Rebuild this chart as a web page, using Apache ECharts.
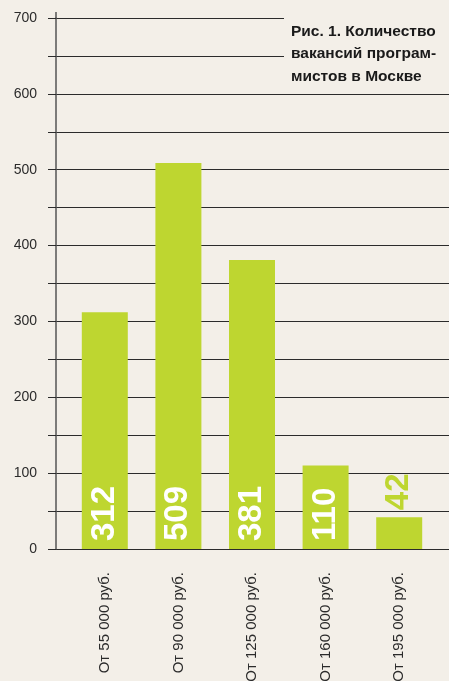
<!DOCTYPE html>
<html>
<head>
<meta charset="utf-8">
<script src="https://cdn.jsdelivr.net/npm/echarts@6/dist/echarts.min.js"></script>
<style>
  html, body { margin: 0; padding: 0; background: #f3efe8; }
  #chart { width: 449px; height: 681px; }
</style>
</head>
<body>
<div id="chart"></div>
<script>
// данные
const categories = ["От 55 000 руб.", "От 90 000 руб.", "От 125 000 руб.", "От 160 000 руб.", "От 195 000 руб."];
const vacancies = [312, 509, 381, 110, 42];
const titleLines = ["Рис. 1. Количество", "вакансий програм-", "мистов в Москве"];

const green = "#bed630";
const ink = "#2b2b2b";

let myChart = echarts.init(document.getElementById("chart"));

// короткий столбец — подпись над ним
const barData = vacancies.map((v) => {
  if (v < 80) {
    return {
      value: v,
      label: { position: "top", distance: 7, color: green },
    };
  }
  return v;
});

myChart.setOption({
  backgroundColor: "#f3efe8",
  animation: false,
  grid: [
    { left: 56, right: 0, top: 18, bottom: 132, outerBoundsMode: "none" }, // сетка и ось
    { left: 68, right: 13, top: 18, bottom: 132, outerBoundsMode: "none" }, // столбцы
  ],
  xAxis: [
    { gridIndex: 0, type: "value", show: false, min: 0, max: 1 },
    {
      gridIndex: 1,
      type: "category",
      data: categories,
      axisLine: { show: false },
      axisTick: { show: false },
      axisLabel: {
        interval: 0,
        rotate: 90,
        margin: 23,
        color: ink,
        fontSize: 15,
        fontFamily: "Liberation Sans",
      },
    },
  ],
  yAxis: [
    {
      gridIndex: 0,
      type: "value",
      min: 0,
      max: 700,
      interval: 50,
      axisLine: { show: true, lineStyle: { color: "#555", width: 1.5 } },
      axisTick: { show: true, length: 8, lineStyle: { color: ink, width: 1 } },
      axisLabel: {
        margin: 19,
        color: ink,
        fontSize: 14,
        fontFamily: "Liberation Sans",
        formatter: (v) => (v % 100 === 0 ? String(v) : ""),
      },
      splitLine: { show: true, lineStyle: { color: ink, width: 1 } },
    },
    { gridIndex: 1, type: "value", min: 0, max: 700, interval: 50, show: false },
  ],
  series: [
    {
      name: "Вакансии",
      type: "bar",
      xAxisIndex: 1,
      yAxisIndex: 1,
      data: barData,
      barWidth: 46,
      itemStyle: { color: green },
      label: {
        show: true,
        position: "insideBottom",
        distance: 8,
        rotate: 90,
        align: "left",
        verticalAlign: "middle",
        color: "#fff",
        fontSize: 33,
        fontWeight: "bold",
        fontFamily: "Liberation Sans",
      },
      z: 3,
    },
  ],
  graphic: [
    {
      type: "line",
      shape: { x1: 56, y1: 12, x2: 56, y2: 18 },
      style: { stroke: "#555", lineWidth: 1.5 },
      z: 5,
    },
    {
      type: "rect",
      shape: { x: 284, y: 0, width: 165, height: 88 },
      style: { fill: "#f3efe8" },
      z: 10,
    },
    {
      type: "text",
      x: 291,
      y: 20,
      style: {
        text: titleLines.join("\n"),
        fill: "#1a1a1a",
        font: "bold 15.5px 'Liberation Sans'",
        lineHeight: 22.5,
      },
      z: 11,
    },
  ],
});
</script>
</body>
</html>
